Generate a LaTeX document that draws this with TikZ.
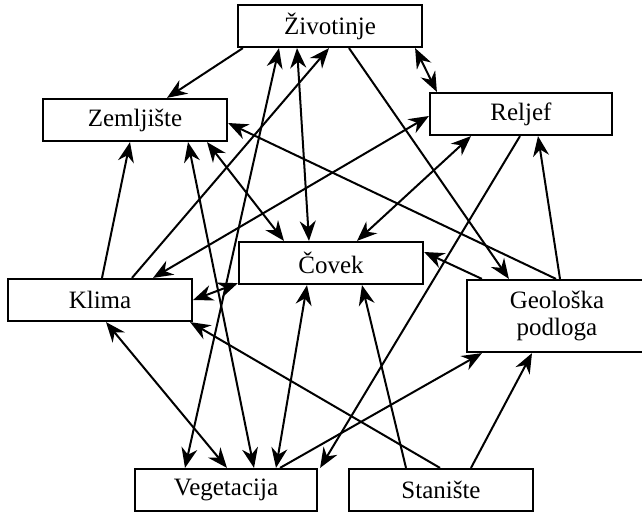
\documentclass[tikz,border=0pt]{standalone}
\usepackage{fontspec}
\setmainfont{Liberation Serif}
\usetikzlibrary{arrows.meta}

\begin{document}
\begin{tikzpicture}[x=1pt, y=-1pt,
        >={Stealth[length=20pt, width=16pt, inset=6.5pt]},
        box/.style={rectangle, draw, line width=2.2pt, fill=white, minimum width=184pt, minimum height=42pt, inner sep=0pt, font=\fontsize{25}{29}\selectfont},
        arr/.style={line width=2pt, ->},
        dbl/.style={line width=2pt, <->}]
        \useasboundingbox (0,0) rectangle (642,512);

        % Draw nodes
        \node[box] (ziv) at (330,26) {Životinje};
        \node[box] (zem) at (135,120) {Zemljište};
        \node[box, minimum width=182pt] (rel) at (521,114) {Reljef};
        \node[box] (cov) at (331,263) {Čovek};
        \node[box] (kli) at (100,300) {Klima};
        \node[box, minimum width=180pt, minimum height=72pt, align=center] (geo) at (557,316) {Geološka\\[-2pt]podloga};
        \node[box, minimum width=182pt] (veg) at (226,490) {Vegetacija};
        \node[box] (sta) at (441,490) {Stanište};

        % Draw connections
        \draw[arr] ([xshift=6pt]ziv.south west) -- ([xshift=32pt]zem.north);
        \draw[dbl] ([xshift=-8pt]ziv.south east) -- ([xshift=8pt]rel.north west);
        \draw[dbl] ([xshift=-51pt]ziv.south) -- ([xshift=-41pt]veg.north);
        \draw[dbl] ([xshift=-33pt]ziv.south) -- ([xshift=-22pt]cov.north);
        \draw[arr] ([xshift=32pt]kli.north) -- ([xshift=-1pt]ziv.south);
        \draw[arr] ([xshift=19pt]ziv.south) -- ([xshift=43pt]geo.north west);
        \draw[arr] ([xshift=2pt]kli.north) -- ([xshift=-5pt]zem.south);
        \draw[dbl] ([xshift=53pt]zem.south) -- ([xshift=28pt]veg.north);
        \draw[dbl] ([xshift=72pt]zem.south) -- ([xshift=-47pt]cov.north);
        \draw[arr] ([xshift=-1pt]geo.north) -- ([yshift=-3pt]zem.east);
        \draw[arr] ([xshift=3pt]geo.north) -- ([xshift=17pt]rel.south);
        \draw[dbl] ([xshift=53pt]kli.north) -- ([yshift=-2pt]rel.west);
        \draw[dbl] ([xshift=26pt]cov.north) -- ([xshift=-50pt]rel.south);
        \draw[arr] ([xshift=-1pt]rel.south) -- ([xshift=2pt]veg.north east);
        \draw[dbl] (kli.east) -- ([yshift=2pt]cov.south west);
        \draw[arr] ([xshift=-1pt]sta.north) -- ([xshift=-3pt]kli.south east);
        \draw[arr] ([xshift=-35pt]sta.north) -- ([xshift=31pt]cov.south);
        \draw[dbl] ([xshift=-24pt]cov.south) -- ([xshift=50pt]veg.north);
        \draw[dbl] ([xshift=6pt]kli.south) -- ([xshift=1pt]veg.north);
        \draw[arr] ([xshift=54pt]veg.north) -- ([xshift=16pt]geo.south west);
        \draw[arr] ([xshift=30pt]sta.north) -- ([xshift=-25pt]geo.south);
        \draw[arr] ([xshift=16pt]geo.north west) -- ([yshift=11pt]cov.east);
    \end{tikzpicture}
\end{document}
